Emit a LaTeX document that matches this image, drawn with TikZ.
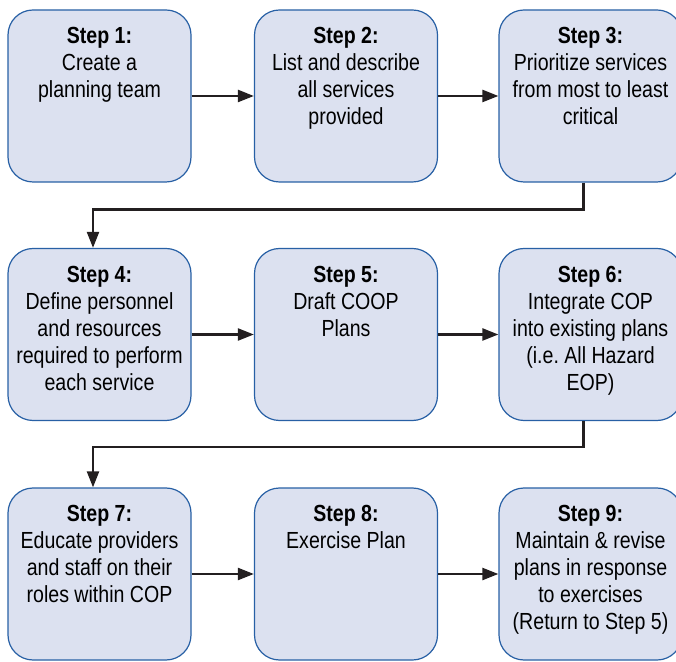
\documentclass[tikz,border=0pt]{standalone}
\usepackage{fontspec}
\setmainfont{Liberation Sans}[FakeStretch=0.84]
\usetikzlibrary{arrows.meta}
\definecolor{stepblue}{RGB}{40,96,165}
\definecolor{stepfill}{RGB}{220,225,240}
\definecolor{flowgray}{RGB}{35,31,32}

\begin{document}
\begin{tikzpicture}[x=1pt, y=1pt,
  stepbox/.style={draw=stepblue, fill=stepfill, line width=1.2pt, rounded corners=25pt,
    minimum width=183pt, minimum height=172pt, inner sep=0pt},
  steptext/.style={anchor=north, align=center, inner sep=0pt, font=\fontsize{23.3}{27}\selectfont},
  flow/.style={draw=flowgray, line width=2.3pt, -{Triangle[length=16pt, width=12pt]}}]
  \useasboundingbox (0,0) rectangle (676,661);

  % boxes, three rows
  \node[stepbox] (s1) at (99.5,565) {};
  \node[stepbox] (s2) at (346,565) {};
  \node[stepbox] (s3) at (590.5,565) {};
  \node[stepbox] (s4) at (99.5,326.5) {};
  \node[stepbox] (s5) at (346,326.5) {};
  \node[stepbox] (s6) at (590.5,326.5) {};
  \node[stepbox] (s7) at (99.5,87) {};
  \node[stepbox] (s8) at (346,87) {};
  \node[stepbox] (s9) at (590.5,87) {};

  % texts, top aligned
  \node[steptext] (t1) at ([yshift=-18pt]s1.north) {\textbf{Step 1:}\\Create a\\planning team};
  \node[steptext] (t2) at ([yshift=-18pt]s2.north) {\textbf{Step 2:}\\List and describe\\all services\\provided};
  \node[steptext] (t3) at ([yshift=-18pt]s3.north) {\textbf{Step 3:}\\Prioritize services\\from most to least\\critical};
  \node[steptext] (t4) at ([yshift=-18pt]s4.north) {\textbf{Step 4:}\\Define personnel\\and resources\\required to perform\\each service};
  \node[steptext] (t5) at ([yshift=-18pt]s5.north) {\textbf{Step 5:}\\Draft COOP\\Plans};
  \node[steptext] (t6) at ([yshift=-18pt]s6.north) {\textbf{Step 6:}\\Integrate COP\\into existing plans\\(i.e.\ All Hazard\\EOP)};
  \node[steptext] (t7) at ([yshift=-18pt]s7.north) {\textbf{Step 7:}\\Educate providers\\and staff on their\\roles within COP};
  \node[steptext] (t8) at ([yshift=-18pt]s8.north) {\textbf{Step 8:}\\Exercise Plan};
  \node[steptext] (t9) at ([yshift=-18pt]s9.north) {\textbf{Step 9:}\\Maintain \& revise\\plans in response\\to exercises\\(Return to Step 5)};

  % arrows within rows
  \draw[flow] (s1) -- (s2);
  \draw[flow] (s2) -- (s3);
  \draw[flow] (s4) -- (s5);
  \draw[flow] (s5) -- (s6);
  \draw[flow] (s7) -- (s8);
  \draw[flow] (s8) -- (s9);

  % wrap to next row
  \draw[flow] ([xshift=-7pt]s3.south) -- ++(0,-27) -| ([xshift=-6.5pt]s4.north);
  \draw[flow] ([xshift=-7pt]s6.south) -- ++(0,-26) -| ([xshift=-6.5pt]s7.north);
\end{tikzpicture}
\end{document}
